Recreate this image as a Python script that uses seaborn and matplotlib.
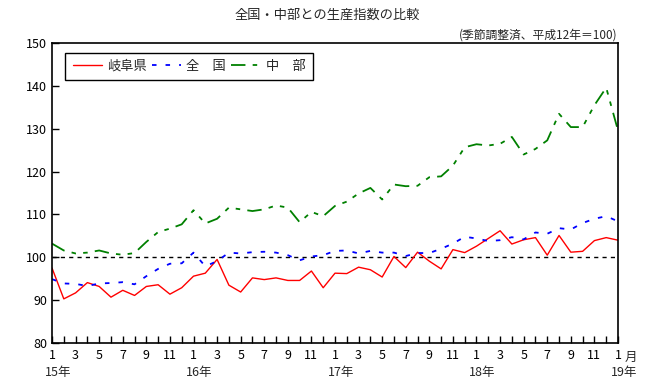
import matplotlib
matplotlib.use("Agg")
import matplotlib.pyplot as plt
import pandas as pd
import seaborn as sns
import numpy as np

# 2015年1月 ～ 2019年1月 (月次)
gifu = [97.5, 90.3, 91.7, 94.1, 93.2, 90.7, 92.3, 91.1, 93.2, 93.6, 91.4, 92.9,
        95.6, 96.3, 99.5, 93.5, 91.9, 95.2, 94.8, 95.2, 94.6, 94.6, 96.8, 92.9,
        96.3, 96.2, 97.7, 97.1, 95.4, 100.2, 97.6, 101.2, 99.1, 97.3, 101.8, 101.1,
        102.6, 104.4, 106.2, 103.1, 104.1, 104.6, 100.5, 105.1, 101.2, 101.4, 103.9, 104.6,
        104.0]
zenkoku = [94.9, 93.9, 93.8, 93.3, 93.9, 94.0, 94.2, 93.7, 95.6, 97.3, 98.5, 98.6,
           101.1, 97.9, 99.1, 101.1, 100.9, 101.2, 101.3, 101.1, 100.5, 99.3, 100.2, 100.5,
           101.5, 101.6, 100.9, 101.5, 101.1, 101.1, 100.3, 101.0, 101.0, 102.0, 103.2, 104.8,
           104.4, 103.8, 104.0, 104.7, 104.2, 105.8, 105.5, 106.8, 106.5, 108.0, 109.0, 109.6,
           108.4]
chubu = [103.2, 101.6, 100.9, 101.1, 101.6, 100.9, 100.6, 101.0, 103.6, 105.9, 106.7, 107.7,
         111.0, 107.9, 109.0, 111.6, 111.2, 110.8, 111.2, 112.1, 111.6, 108.2, 110.6, 109.6,
         112.0, 113.0, 114.9, 116.2, 113.5, 117.0, 116.6, 116.7, 118.7, 118.9, 121.4, 125.7,
         126.4, 126.1, 126.5, 128.1, 124.0, 125.3, 127.3, 133.5, 130.4, 130.4, 135.5, 139.6,
         129.6]
years = ["15年", "16年", "17年", "18年", "19年"]

idx = np.arange(len(gifu))
month_labels = [str(i % 12 + 1) if i % 2 == 0 else "" for i in idx]

sns.set_style("ticks")
plt.rcParams['font.family'] = ['Noto Sans CJK JP', 'DejaVu Sans']

fig = plt.figure(figsize=(6.55, 3.92), dpi=100)
ax = fig.add_axes([0.0794, 0.125, 0.8641, 0.765])

df = pd.DataFrame({"idx": idx, "gifu": gifu, "zenkoku": zenkoku, "chubu": chubu})

ax.axhline(100, color="black", lw=1, linestyle=(0, (3, 3)), zorder=1)
sns.lineplot(data=df, x="idx", y="gifu", color="#ff0000", lw=1, label="岐阜県", ax=ax)
sns.lineplot(data=df, x="idx", y="zenkoku", color="#0000ff", lw=1.3,
             linestyle=(0, (2.5, 5)), label="全　国", ax=ax)
sns.lineplot(data=df, x="idx", y="chubu", color="#008000", lw=1.3,
             linestyle=(0, (8, 4, 2.5, 4, 2.5, 4)), label="中　部", ax=ax)

ax.set_xlim(0, 48)
ax.set_ylim(80, 150)
ax.set_yticks(range(80, 151, 10))
ax.set_xticks(idx)
ax.set_xticklabels(month_labels)
ax.tick_params(direction="in", length=5, width=1, labelsize=9, colors="black")
ax.tick_params(axis="x", pad=4)
ax.set_xlabel("")
ax.set_ylabel("")
for s in ax.spines.values():
    s.set_visible(True)
    s.set_linewidth(1.2)
    s.set_color("black")

for k, y in enumerate(years):
    ax.text(k * 12 + 0.5, -0.1, y, transform=ax.get_xaxis_transform(),
            ha="center", va="center", fontsize=9)
ax.text(48.6, -0.025, "月", transform=ax.get_xaxis_transform(),
        ha="left", va="top", fontsize=9)

leg = ax.legend(loc="upper left", ncol=3, frameon=True, fontsize=9.5,
                handlelength=2.2, handletextpad=0.4, columnspacing=0.4,
                borderpad=0.55, bbox_to_anchor=(0.012, 0.99))
leg.get_frame().set_edgecolor("black")
leg.get_frame().set_linewidth(1)
leg.get_frame().set_boxstyle("square", pad=0)
leg.get_frame().set_alpha(1)

fig.text(0.5, 0.96, "全国・中部との生産指数の比較", ha="center", va="center", fontsize=9.5)
fig.text(0.942, 0.91, "(季節調整済、平成12年＝100)", ha="right", va="center", fontsize=8.5)

fig.savefig("out.png", dpi=100)
